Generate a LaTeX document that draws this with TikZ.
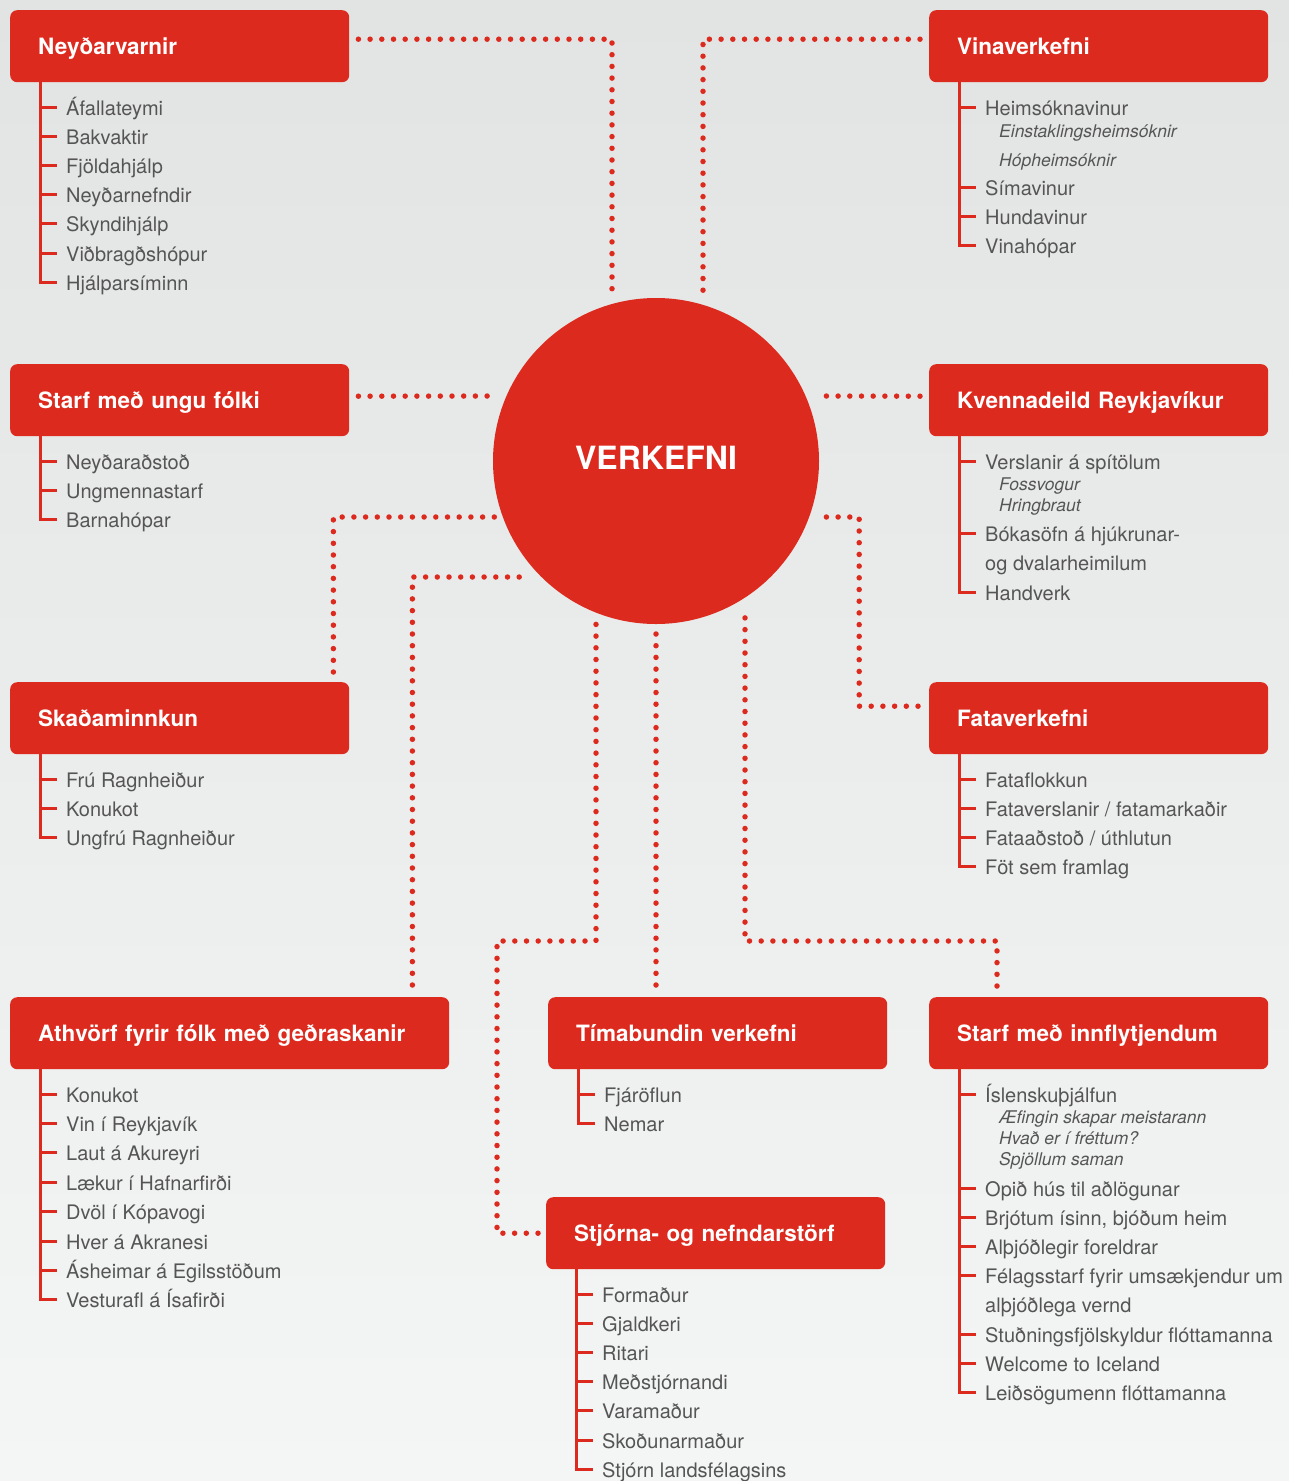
\documentclass[tikz,border=0pt]{standalone}
\usepackage{fontspec}
\setmainfont{TeX Gyre Heros}
\usetikzlibrary{calc}
\definecolor{rkred}{RGB}{221,42,30}
\definecolor{rkgray}{RGB}{85,85,85}
\definecolor{bgtop}{RGB}{226,228,227}
\definecolor{bgbot}{RGB}{244,245,245}
\begin{document}
\begin{tikzpicture}[x=1pt,y=-1pt,
 box/.style={fill=rkred, rounded corners=7pt, minimum height=72pt, inner xsep=28pt, inner ysep=0pt, text height=17pt, text depth=0pt, text width=283pt, align=left, anchor=north west, text=white, font=\fontsize{22.5}{27}\selectfont\bfseries},
 item/.style={anchor=base west, inner sep=0pt, text height=16pt, text depth=0pt, text=rkgray, font=\fontsize{20}{24}\selectfont},
 sub/.style={anchor=base west, inner sep=0pt, text=rkgray, font=\fontsize{17.5}{21}\selectfont\itshape},
 tree/.style={draw=rkred, line width=3pt},
 dotline/.style={draw=rkred, line width=5.5pt, line cap=round, dash pattern=on 0pt off 11.7pt}]
\useasboundingbox (0,0) rectangle (1289,1481);
\fill[top color=bgtop, bottom color=bgbot] (0,0) rectangle (1289,1481);

% boxes and centre
\node[box] (b1) at (10,10) {Neyðarvarnir};
\node[box] (b2) at (929,10) {Vinaverkefni};
\node[box] (b3) at (10,364) {Starf með ungu fólki};
\node[box] (b4) at (929,364) {Kvennadeild Reykjavíkur};
\node[box] (b5) at (10,682) {Skaðaminnkun};
\node[box] (b6) at (929,682) {Fataverkefni};
\node[box, text width=383pt] (b7) at (10,997) {Athvörf fyrir fólk með geðraskanir};
\node[box] (b8) at (548,997) {Tímabundin verkefni};
\node[box] (b9) at (929,997) {Starf með innflytjendum};
\node[box] (b10) at (546,1197) {Stjórna- og nefndarstörf};
\node[circle, fill=rkred, minimum size=326pt, inner sep=0pt, text=white, text depth=6pt, font=\fontsize{32}{38}\selectfont\bfseries] (c) at (656,461) {VERKEFNI};

% dotted connectors
\draw[dotline] ($(b1.east)+(9,-7)$) -| ($(c.north)+(-44,-5)$);
\draw[dotline] ($(b2.west)+(-9,-7)$) -| ($(c.north)+(47,-5)$);
\draw[dotline] ($(b3.east)+(9,-4)$) -- ($(c.west)+(5,-65)$);
\draw[dotline] ($(b4.west)+(-9,-4)$) -- ($(c.east)+(-1,-65)$);
\draw[dotline] ($(b5.north east)+(-16,-10)$) |- ($(c.west)+(3,56)$);
\draw[dotline] ($(b6.west)+(-11,-12)$) -| ($(c.east)+(40,56)$) -- ($(c.east)+(3,56)$);
\draw[dotline] ($(b7.north east)+(-37,-12)$) |- ($(c.center)+(-129,116)$);
\draw[dotline] ($(b10.west)+(-8,0)$) -| ($(c.center)+(-159,480)$) -| ($(c.center)+(-60,162)$);
\draw[dotline] ($(b8.north west)+(108,-12)$) -- ($(c.south)+(0,9)$);
\draw[dotline] ($(b9.north west)+(68,-11)$) |- ($(c.center)+(89,480)$) -- ($(c.center)+(89,148)$);

% group 1
\node[item] (a1) at (66,115) {Áfallateymi};
\node[item] (a2) at (66,144.2) {Bakvaktir};
\node[item] (a3) at (66,173.4) {Fjöldahjálp};
\node[item] (a4) at (66,202.6) {Neyðarnefndir};
\node[item] (a5) at (66,231.8) {Skyndihjálp};
\node[item] (a6) at (66,261) {Viðbragðshópur};
\node[item] (a7) at (66,290.2) {Hjálparsíminn};
\draw[tree] ([xshift=30pt]b1.south west) |- ([xshift=-9pt]a7.west);
\foreach \n in {a1,a2,a3,a4,a5,a6} \draw[tree] ([xshift=-26pt]\n.west) -- ([xshift=-9pt]\n.west);

% group 2
\node[item] (v1) at (985,115) {Heimsóknavinur};
\node[sub] (v1a) at (999,137) {Einstaklingsheimsóknir};
\node[sub] (v1b) at (999,166) {Hópheimsóknir};
\node[item] (v2) at (985,195) {Símavinur};
\node[item] (v3) at (985,224.3) {Hundavinur};
\node[item] (v4) at (985,253.5) {Vinahópar};
\draw[tree] ([xshift=30pt]b2.south west) |- ([xshift=-9pt]v4.west);
\foreach \n in {v1,v2,v3} \draw[tree] ([xshift=-26pt]\n.west) -- ([xshift=-9pt]\n.west);

% group 3
\node[item] (u1) at (66,469) {Neyðaraðstoð};
\node[item] (u2) at (66,498.2) {Ungmennastarf};
\node[item] (u3) at (66,527.4) {Barnahópar};
\draw[tree] ([xshift=30pt]b3.south west) |- ([xshift=-9pt]u3.west);
\foreach \n in {u1,u2} \draw[tree] ([xshift=-26pt]\n.west) -- ([xshift=-9pt]\n.west);

% group 4
\node[item] (k1) at (985,469) {Verslanir á spítölum};
\node[sub] (k1a) at (999,490) {Fossvogur};
\node[sub] (k1b) at (999,511.5) {Hringbraut};
\node[item] (k2) at (985,541.5) {Bókasöfn á hjúkrunar-};
\node[item] (k2b) at (985,570.7) {og dvalarheimilum};
\node[item] (k3) at (985,600) {Handverk};
\draw[tree] ([xshift=30pt]b4.south west) |- ([xshift=-9pt]k3.west);
\foreach \n in {k1,k2} \draw[tree] ([xshift=-26pt]\n.west) -- ([xshift=-9pt]\n.west);

% group 5
\node[item] (s1) at (66,787) {Frú Ragnheiður};
\node[item] (s2) at (66,816.2) {Konukot};
\node[item] (s3) at (66,845.4) {Ungfrú Ragnheiður};
\draw[tree] ([xshift=30pt]b5.south west) |- ([xshift=-9pt]s3.west);
\foreach \n in {s1,s2} \draw[tree] ([xshift=-26pt]\n.west) -- ([xshift=-9pt]\n.west);

% group 6
\node[item] (f1) at (985,787) {Fataflokkun};
\node[item] (f2) at (985,816.2) {Fataverslanir / fatamarkaðir};
\node[item] (f3) at (985,845.4) {Fataaðstoð / úthlutun};
\node[item] (f4) at (985,874.6) {Föt sem framlag};
\draw[tree] ([xshift=30pt]b6.south west) |- ([xshift=-9pt]f4.west);
\foreach \n in {f1,f2,f3} \draw[tree] ([xshift=-26pt]\n.west) -- ([xshift=-9pt]\n.west);

% group 7
\node[item] (h1) at (66,1102) {Konukot};
\node[item] (h2) at (66,1131.4) {Vin í Reykjavík};
\node[item] (h3) at (66,1160.8) {Laut á Akureyri};
\node[item] (h4) at (66,1190.2) {Lækur í Hafnarfirði};
\node[item] (h5) at (66,1219.6) {Dvöl í Kópavogi};
\node[item] (h6) at (66,1249) {Hver á Akranesi};
\node[item] (h7) at (66,1278.4) {Ásheimar á Egilsstöðum};
\node[item] (h8) at (66,1307.8) {Vesturafl á Ísafirði};
\draw[tree] ([xshift=30pt]b7.south west) |- ([xshift=-9pt]h8.west);
\foreach \n in {h1,h2,h3,h4,h5,h6,h7} \draw[tree] ([xshift=-26pt]\n.west) -- ([xshift=-9pt]\n.west);

% group 8
\node[item] (t1) at (604,1102) {Fjáröflun};
\node[item] (t2) at (604,1131.2) {Nemar};
\draw[tree] ([xshift=30pt]b8.south west) |- ([xshift=-9pt]t2.west);
\draw[tree] ([xshift=-26pt]t1.west) -- ([xshift=-9pt]t1.west);

% group 9
\node[item] (m1) at (985,1102) {Íslenskuþjálfun};
\node[sub] (m1a) at (999,1123) {Æfingin skapar meistarann};
\node[sub] (m1b) at (999,1144.3) {Hvað er í fréttum?};
\node[sub] (m1c) at (999,1165.5) {Spjöllum saman};
\node[item] (m2) at (985,1196) {Opið hús til aðlögunar};
\node[item] (m3) at (985,1225.2) {Brjótum ísinn, bjóðum heim};
\node[item] (m4) at (985,1254.4) {Alþjóðlegir foreldrar};
\node[item] (m5) at (985,1283.6) {Félagsstarf fyrir umsækjendur um};
\node[item] (m5b) at (985,1312.8) {alþjóðlega vernd};
\node[item] (m6) at (985,1342) {Stuðningsfjölskyldur flóttamanna};
\node[item] (m7) at (985,1371.2) {Welcome to Iceland};
\node[item] (m8) at (985,1400.4) {Leiðsögumenn flóttamanna};
\draw[tree] ([xshift=30pt]b9.south west) |- ([xshift=-9pt]m8.west);
\foreach \n in {m1,m2,m3,m4,m5,m6,m7} \draw[tree] ([xshift=-26pt]\n.west) -- ([xshift=-9pt]\n.west);

% group 10
\node[item] (r1) at (602,1302) {Formaður};
\node[item] (r2) at (602,1331.2) {Gjaldkeri};
\node[item] (r3) at (602,1360.4) {Ritari};
\node[item] (r4) at (602,1389.6) {Meðstjórnandi};
\node[item] (r5) at (602,1418.8) {Varamaður};
\node[item] (r6) at (602,1448) {Skoðunarmaður};
\node[item] (r7) at (602,1477.2) {Stjórn landsfélagsins};
\draw[tree] ([xshift=30pt]b10.south west) |- ([xshift=-9pt]r7.west);
\foreach \n in {r1,r2,r3,r4,r5,r6} \draw[tree] ([xshift=-26pt]\n.west) -- ([xshift=-9pt]\n.west);
\end{tikzpicture}
\end{document}
